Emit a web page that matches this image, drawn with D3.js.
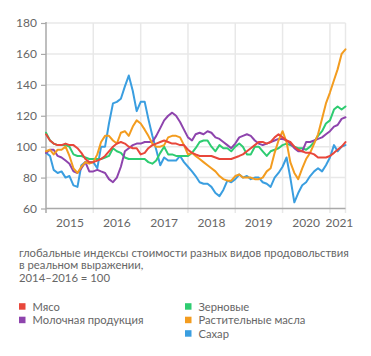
<!DOCTYPE html>
<html><head><meta charset="utf-8">
<script src="https://cdn.jsdelivr.net/npm/d3@7"></script>
<style>
html,body{margin:0;padding:0;background:#fff;}
svg{display:block;font-family:Lato,"Open Sans",sans-serif;}
</style></head>
<body><svg id="c" width="371" height="356"></svg>
<script>
// ---- data ----
const startMonth = "2015-01-01";
const endMonth = "2021-05-01";
const yTicks = [60, 80, 100, 120, 140, 160, 180];
const yearLabels = ["2015", "2016", "2017", "2018", "2019", "2020", "2021"];
const yearLabelDates = ["2015-07-05", "2016-07-01", "2017-07-01", "2018-07-01", "2019-07-01", "2020-07-01", "2021-03-15"];
const yearGridDates = ["2016-01-01", "2017-01-01", "2018-01-01", "2019-01-01", "2020-01-01", "2021-01-01", "2021-05-01"];

const meat = [108,104,102,101,101,102,101,101,99,96,92,90,90,91,92,94,97,100,102,103,102,100,99,99,95,96,99,101,102,103,104,103,102,102,101,101,98,96,95,94,94,94,94,93,92,92,92,92,93,94,95,97,99,101,103,103,102,103,106,108,106,104,103,100,98,97,96,96,95,93,93,93,94,96,98,100,103];
const dairy = [96,98,98,94,93,91,89,84,83,86,90,84,84,85,84,83,79,77,80,87,97,99,101,102,102,103,103,103,107,112,117,120,122,120,116,111,106,104,108,109,108,110,109,106,105,103,101,99,102,106,107,108,107,104,102,101,102,103,104,105,105,104,102,99,97,97,103,103,104,105,106,108,110,113,114,118,119];
const cereals = [109,104,102,101,101,101,100,95,94,94,93,92,92,92,92,93,94,99,97,96,93,92,92,92,92,92,90,89,91,96,100,95,95,94,94,94,94,96,99,103,104,104,100,97,101,99,99,97,100,102,100,95,95,100,100,97,94,97,98,99,101,102,101,100,99,99,98,100,103,107,110,115,117,124,126,124,126];
const oils = [97,98,95,98,98,100,94,86,83,87,90,89,90,95,103,107,107,104,102,109,110,107,113,117,115,111,107,102,100,100,101,106,107,107,106,101,95,96,94,92,90,88,86,84,81,79,78,78,81,82,80,80,80,79,79,80,84,86,96,104,110,103,90,83,79,86,92,96,102,108,118,128,135,143,150,160,163];
const sugar = [96,94,85,83,84,80,81,75,74,88,90,90,90,86,100,100,115,128,129,131,139,146,136,123,129,129,118,107,98,88,93,91,91,91,94,90,87,84,81,77,76,76,74,70,68,72,78,77,79,82,80,81,79,80,80,77,76,74,80,83,87,93,80,64,70,75,77,81,84,86,84,88,93,101,97,100,101];

const seriesNames = ["Мясо", "Молочная продукция", "Зерновые", "Растительные масла", "Сахар"];
const seriesValues = [meat, dairy, cereals, oils, sugar];
const seriesColors = ["#e8473b", "#8e44ad", "#2ecc71", "#f39c1f", "#3a9ee0"];
const drawOrder = [4, 2, 1, 3, 0];
const legendColumn = [0, 0, 1, 1, 1];
const legendRow = [0, 1, 0, 1, 2];

const captionLines = ["глобальные индексы стоимости разных видов продовольствия", "в реальном выражении,", "2014–2016 = 100"];

// ---- chart ----
const svg = d3.select("#c");
const parse = d3.timeParse("%Y-%m-%d");
const months = d3.timeMonth.range(parse(startMonth), d3.timeMonth.offset(parse(endMonth), 1));

const mLeft = 46, mRight = 345.5, mTop = 23, mBottom = 208.5;
const x = d3.scaleTime().domain([parse(startMonth), parse(endMonth)]).range([mLeft, mRight]);
const y = d3.scaleLinear().domain([60, 180]).range([mBottom, mTop]);

const gridColor = "#e8e8e8";
const axisColor = "#a9a9a9";
const textColor = "#666";
const fontFam = "Lato,'Open Sans',sans-serif";

// horizontal grid
svg.append("g").selectAll("line").data(yTicks.filter(d => d > 60)).join("line")
  .attr("x1", mLeft).attr("x2", mRight)
  .attr("y1", d => y(d)).attr("y2", d => y(d))
  .attr("stroke", gridColor).attr("stroke-width", 1.5);

// vertical grid
svg.append("g").selectAll("line").data(yearGridDates).join("line")
  .attr("x1", d => x(parse(d))).attr("x2", d => x(parse(d)))
  .attr("y1", mTop).attr("y2", mBottom + 4.5)
  .attr("stroke", gridColor).attr("stroke-width", 1.5);

// y axis
const yAxis = d3.axisLeft(y).tickValues(yTicks).tickSize(5).tickPadding(4);
const gy = svg.append("g").attr("transform", `translate(${mLeft},0)`).call(yAxis);
gy.select(".domain").remove();
gy.selectAll(".tick line").attr("stroke", axisColor).attr("stroke-width", 1.2);
gy.selectAll(".tick text").attr("fill", textColor).attr("font-size", 12)
  .attr("font-family", fontFam);
svg.append("line").attr("x1", mLeft).attr("x2", mLeft).attr("y1", mTop - 1).attr("y2", mBottom + 4.5)
  .attr("stroke", axisColor).attr("stroke-width", 1.5);
svg.append("line").attr("x1", mLeft).attr("x2", mRight).attr("y1", mBottom).attr("y2", mBottom)
  .attr("stroke", axisColor).attr("stroke-width", 1.5);

// x labels
svg.append("g").selectAll("text").data(yearLabels).join("text")
  .attr("x", (d, i) => x(parse(yearLabelDates[i])))
  .attr("y", 227)
  .attr("text-anchor", "middle")
  .attr("fill", textColor).attr("font-size", 12)
  .text(d => d);

// lines
const line = d3.line().x((d, i) => x(months[i])).y(d => y(d));
svg.append("g").selectAll("path").data(drawOrder).join("path")
  .attr("d", k => line(seriesValues[k]))
  .attr("fill", "none")
  .attr("stroke", k => seriesColors[k])
  .attr("stroke-width", 2)
  .attr("stroke-linejoin", "round")
  .attr("stroke-linecap", "round");

// caption
svg.append("g").selectAll("text").data(captionLines).join("text")
  .attr("x", 19).attr("y", (d, i) => [256.5, 269, 282][i])
  .attr("fill", textColor).attr("font-size", 11.3)
  .text(d => d);

// legend
const colX = [19, 185], rowY = [306.5, 320, 333.5];
const lg = svg.append("g").selectAll("g").data(seriesNames).join("g")
  .attr("transform", (d, i) => `translate(${colX[legendColumn[i]]},${rowY[legendRow[i]]})`);
lg.append("rect").attr("x", 0).attr("y", -3.3).attr("width", 6.5).attr("height", 6.5)
  .attr("fill", (d, i) => seriesColors[i]);
lg.append("text").attr("x", 13.5).attr("y", 4).attr("fill", textColor).attr("font-size", 11.2)
  .text(d => d);
</script></body></html>
